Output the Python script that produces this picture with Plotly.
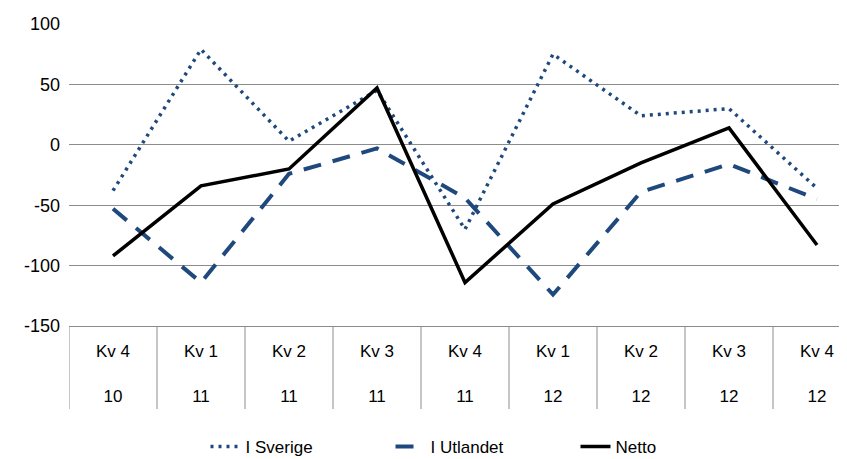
import plotly.graph_objects as go

quarters = ["Kv 4", "Kv 1", "Kv 2", "Kv 3", "Kv 4", "Kv 1", "Kv 2", "Kv 3", "Kv 4"]
years = ["10", "11", "11", "11", "11", "12", "12", "12", "12"]
i_sverige = [-38, 79, 3, 45, -70, 75, 24, 30, -36]
i_utlandet = [-53, -114, -24, -3, -44, -124, -39, -16, -45]
netto = [-92, -34, -20, 47, -114, -49, -15, 14, -83]
y_ticks = [-150, -100, -50, 0, 50, 100]
y_tick_labels = ["-150", "-100", "-50", "0", "50", "100"]

x = list(range(len(quarters)))
ticktext = [f"{q}<br><br>{y}" for q, y in zip(quarters, years)]
blue = "#1F497D"
grid = "#8c8c8c"

fig = go.Figure()
fig.add_trace(go.Scatter(x=x, y=i_sverige, mode="lines", name="I Sverige",
                         line=dict(color=blue, width=3.5, dash="3px,5px")))
fig.add_trace(go.Scatter(x=x, y=i_utlandet, mode="lines", name="I Utlandet",
                         line=dict(color=blue, width=4, dash="18px,12px")))
fig.add_trace(go.Scatter(x=x, y=netto, mode="lines", name="Netto",
                         line=dict(color="black", width=3.5)))

# figure is placed with the page's 8px body margin
W, H = 839, 451
ML, MT, PH = 61, 16, 302
MB = H - MT - PH

# category boundary dividers below the axis
for b in [i - 0.5 for i in range(len(quarters) + 1)]:
    fig.add_shape(type="line", xref="x", yref="paper", x0=b, x1=b, y0=0, y1=-83 / PH,
                  line=dict(color=grid, width=1), layer="below")

font_family = "Liberation Sans, Arial, sans-serif"

fig.update_layout(
    width=W, height=H,
    margin=dict(l=ML, r=0, t=MT, b=MB, autoexpand=False),
    paper_bgcolor="white", plot_bgcolor="white",
    showlegend=True,
    legend=dict(orientation="h", x=(483 - 8 - ML) / (W - ML), xanchor="center",
                y=-(447 - 8 - MT - PH) / PH, yanchor="middle", entrywidth=140,
                font=dict(family=font_family, size=17, color="black")),
    font=dict(family=font_family, size=17, color="black"),
)
fig.update_xaxes(
    range=[-0.5, -0.5 + (W - ML) / 88], tickmode="array", tickvals=x, ticktext=ticktext,
    showgrid=False, zeroline=False, showline=True, linecolor=grid, linewidth=1,
    ticks="", ticklabelstandoff=10, tickangle=0, automargin=False,
    tickfont=dict(family=font_family, size=17, color="black"),
)
fig.update_yaxes(
    range=[-150, 100], tickmode="array", tickvals=y_ticks, ticktext=y_tick_labels,
    showgrid=True, gridcolor=grid, gridwidth=1, zeroline=False, automargin=False,
    ticks="", ticklabelstandoff=8,
    tickfont=dict(family=font_family, size=18, color="black"),
)

fig.write_html("out.html")
